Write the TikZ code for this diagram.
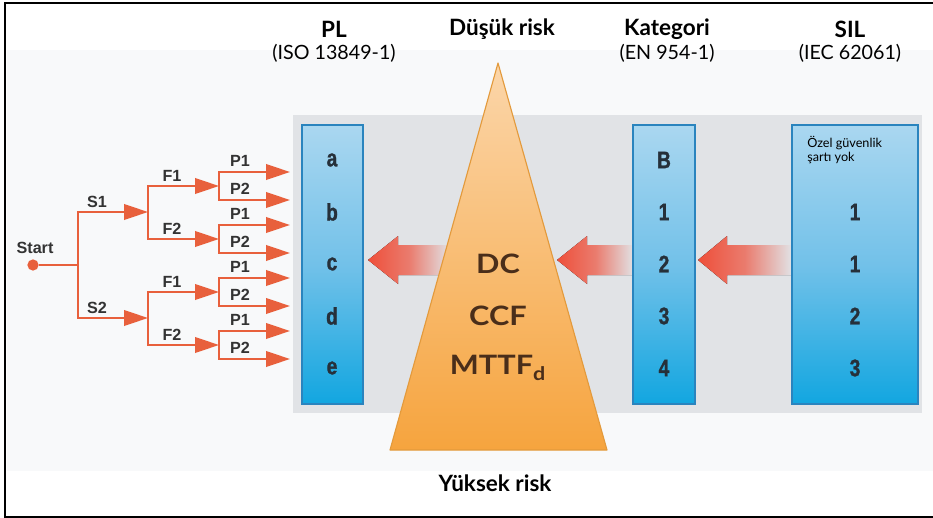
\documentclass[tikz,border=0pt]{standalone}
\usepackage{fontspec}
\setmainfont{Lato}
\newfontfamily\treefont{Liberation Sans}
\newfontfamily\colfont[FakeStretch=0.8, BoldFeatures={FakeBold=1.2}]{Liberation Sans}
\newfontfamily\widefont[FakeStretch=1.15]{Lato}
\usetikzlibrary{arrows.meta}
\definecolor{treered}{HTML}{E8603C}
\definecolor{lightbg}{HTML}{F8F9FA}
\definecolor{bandgray}{HTML}{E1E3E6}
\definecolor{coltop}{HTML}{AAD7F0}
\definecolor{colmid}{HTML}{72C1E9}
\definecolor{colbot}{HTML}{12A6E0}
\definecolor{coledge}{HTML}{2A84BE}
\definecolor{tritop}{HTML}{FBD6AA}
\definecolor{tribot}{HTML}{F6A43E}
\definecolor{triedge}{HTML}{E39A3C}
\definecolor{arrowred}{HTML}{EE4F3A}
\definecolor{labelgray}{HTML}{333333}
\definecolor{charblue}{HTML}{26303A}
\definecolor{charbrown}{HTML}{4A2E1A}

\tikzset{
  tree/.style={treered, line width=1.6pt},
  treearr/.style={tree, -{Triangle[length=17pt,width=11pt]}},
  lbl/.style={font=\treefont\bfseries\fontsize{11.5}{11.5}\selectfont, text=labelgray, inner sep=0pt},
  colchar/.style={font=\colfont\bfseries\fontsize{17}{17}\selectfont, text=charblue, inner sep=0pt},
  trichar/.style={font=\widefont\bfseries\fontsize{19}{19}\selectfont, text=charbrown, inner sep=0pt},
  head/.style={font=\bfseries\fontsize{16}{16}\selectfont, inner sep=0pt},
  subhead/.style={font=\fontsize{14}{14}\selectfont, inner sep=0pt},
  colbox/.style={draw=coledge, line width=1.2pt, top color=coltop, bottom color=colbot, middle color=colmid},
  fatarrow/.style={left color=arrowred, right color=bandgray, middle color=arrowred!70!bandgray}
}

\begin{document}
\begin{tikzpicture}[x=0.025cm,y=-0.025cm]
\useasboundingbox (0,0) rectangle (933,518);
% frame and background
\fill[lightbg] (7,50) rectangle (933,471);
\draw[line width=1.2pt] (933,3) -- (5,3) -- (5,517) -- (933,517);
\fill[bandgray] (293,115) rectangle (922,413);

% big arrows
\fill[fatarrow] (368,260) -- (398,236) -- (398,245) -- (450,245) -- (450,275) -- (398,275) -- (398,284) -- cycle;
\fill[fatarrow] (698,260) -- (727,236) -- (727,245) -- (792,245) -- (792,275) -- (727,275) -- (727,284) -- cycle;

% triangle
\shade[top color=tritop, bottom color=tribot] (498,63) -- (607,450) -- (390,450) -- cycle;
\draw[triedge, line width=0.8pt, line join=round] (498,63) -- (607,450) -- (390,450) -- cycle;
\fill[fatarrow] (557,260) -- (587,236) -- (587,245) -- (634,245) -- (634,275) -- (587,275) -- (587,284) -- cycle;

% columns
\draw[colbox] (302,125) rectangle (363,404);
\draw[colbox] (633,125) rectangle (695,404);
\draw[colbox] (792,125) rectangle (918,404);

% headings
\node[head] (plh) at (334,29) {PL};
\node[subhead] (pls) at (334,53) {(ISO 13849-1)};
\node[head] (low) at (502,29) {Düşük risk};
\node[head] (kath) at (667,29) {Kategori};
\node[subhead] (kats) at (667,53) {(EN 954-1)};
\node[head] (silh) at (850,29) {SIL};
\node[subhead] (sils) at (850,53) {(IEC 62061)};
\node[head] (high) at (495,483) {Yüksek risk};

% column entries
\foreach \t [count=\i] in {a,b,c,d,e}
  \node[colchar] (pl\i) at (332,108+52*\i) {\t};
\foreach \t [count=\i] in {B,1,2,3,4}
  \node[colchar] (kat\i) at (664,108+52*\i) {\t};
\foreach \t [count=\i] in {1,1,2,3}
  \node[colchar] (sil\i) at (855,160+52*\i) {\t};
\node[anchor=north west, align=left, inner sep=0pt, font=\fontsize{9}{10}\selectfont] (silnote) at (807,136) {Özel güvenlik\\şartı yok};
\node[trichar] (dc) at (498,264) {DC};
\node[trichar] (ccf) at (498,316) {CCF};
\node[trichar] (mttf) at (498,368) {MTTF\textsubscript{d}};

% tree
\node[circle, fill=treered, inner sep=0pt, minimum size=8pt] (st) at (33,265) {};
\node[lbl] (stl) at (35,248) {Start};
\coordinate (jv) at (78,265);
\coordinate (s1) at (148,212);
\coordinate (s2) at (148,318);
\coordinate (f11) at (219,186);
\coordinate (f12) at (219,239);
\coordinate (f21) at (219,292);
\coordinate (f22) at (219,345);
\draw[tree] (st) -- (jv);
\draw[treearr] (jv) |- (s1);
\draw[treearr] (jv) |- (s2);
\draw[treearr] (s1) |- (f11);
\draw[treearr] (s1) |- (f12);
\draw[treearr] (s2) |- (f21);
\draw[treearr] (s2) |- (f22);
\node[lbl] (s1l) at (97,202) {S1};
\node[lbl] (s2l) at (97,308) {S2};
\foreach \f/\y in {f11/186,f12/239,f21/292,f22/345} {
  \coordinate (\f a) at (290,\y-14);
  \coordinate (\f b) at (290,\y+14);
  \draw[treearr] (\f) |- (\f a);
  \draw[treearr] (\f) |- (\f b);
  \node[lbl] (\f pa) at (240,\y-25) {P1};
  \node[lbl] (\f pb) at (240,\y+3) {P2};
}
\node[lbl] (f11l) at (172,176) {F1};
\node[lbl] (f12l) at (172,229) {F2};
\node[lbl] (f21l) at (172,282) {F1};
\node[lbl] (f22l) at (172,335) {F2};
\end{tikzpicture}
\end{document}
